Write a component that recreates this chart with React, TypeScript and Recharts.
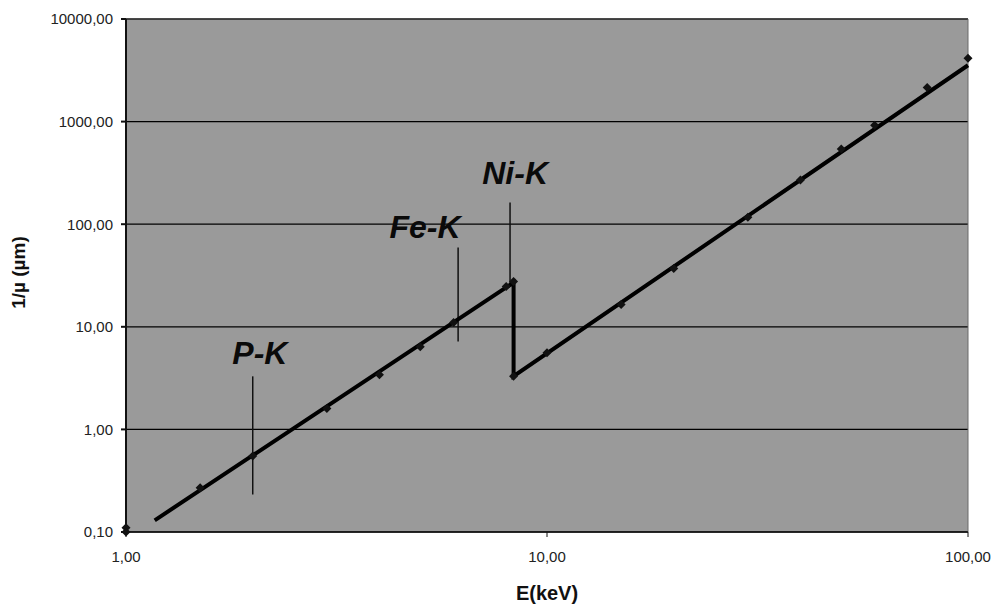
import {
  ComposedChart,
  Line,
  Scatter,
  XAxis,
  YAxis,
  CartesianGrid,
  ReferenceLine,
  ReferenceDot,
} from "recharts";

// measured points, E (keV) vs 1/mu (um)
const measured = [
  { x: 1, y: 0.11 },
  { x: 1, y: 0.1 },
  { x: 1.5, y: 0.27 },
  { x: 2, y: 0.55 },
  { x: 3, y: 1.6 },
  { x: 4, y: 3.4 },
  { x: 5, y: 6.4 },
  { x: 6, y: 11 },
  { x: 8, y: 24.7 },
  { x: 8.33, y: 27.7 },
  { x: 8.33, y: 3.3 },
  { x: 10, y: 5.6 },
  { x: 15, y: 16.5 },
  { x: 20, y: 37 },
  { x: 30, y: 117 },
  { x: 40, y: 270 },
  { x: 50, y: 540 },
  { x: 60, y: 920 },
  { x: 80, y: 2150 },
  { x: 100, y: 4150 },
];

// fitted curve with the Ni-K absorption edge
const fitted = [
  { x: 1.17, y: 0.13 },
  { x: 8.33, y: 27 },
  { x: 8.33, y: 3.3 },
  { x: 100, y: 3540 },
];

const xTicks = [1, 10, 100];
const yTicks = [0.1, 1, 10, 100, 1000, 10000];

// absorption edge markers: label position and vertical segment
const edges = [
  { name: "P-K", x: 2, y1: 0.232, y2: 3.29, lx: 2.08, ly: 5.6 },
  { name: "Fe-K", x: 6.15, y1: 7.2, y2: 59.4, lx: 5.13, ly: 93 },
  { name: "Ni-K", x: 8.17, y1: 25, y2: 163, lx: 8.4, ly: 313 },
];

const FONT = "'Liberation Sans', Arial, sans-serif";
const fmt = (v: number) => v.toFixed(2).replace(".", ",");

const Diamond = (props: any) => {
  const { cx, cy } = props;
  if (cx == null || cy == null) return null;
  const r = 4.5;
  return (
    <path
      d={`M${cx},${cy - r}L${cx + r},${cy}L${cx},${cy + r}L${cx - r},${cy}Z`}
      fill="#111"
    />
  );
};

export default function App() {
  return (
    <div style={{ position: "absolute", left: 0, top: 0, background: "#fff" }}>
      <ComposedChart
        width={992}
        height={605}
        margin={{ top: 19, right: 24, bottom: 3, left: 16 }}
      >
        <CartesianGrid
          horizontal
          vertical={false}
          fill="#9a9a9a"
          fillOpacity={1}
          stroke="#000"
          strokeWidth={1.3}
        />
        <XAxis
          type="number"
          dataKey="x"
          scale="log"
          domain={[1, 100]}
          ticks={xTicks}
          interval={0}
          tickFormatter={fmt}
          height={70}
          tickSize={5}
          tickMargin={14}
          stroke="#111"
          tick={{ fill: "#222", fontSize: 15, fontFamily: FONT }}
          label={{
            content: ({ viewBox }: any) => (
              <text
                x={viewBox.x + viewBox.width / 2}
                y={600}
                textAnchor="middle"
                fontFamily={FONT}
                fontWeight="bold"
                fontSize={20}
                fill="#111"
              >
                E(keV)
              </text>
            ),
          }}
        />
        <YAxis
          type="number"
          dataKey="y"
          scale="log"
          domain={[0.1, 10000]}
          ticks={yTicks}
          interval={0}
          tickFormatter={fmt}
          width={110}
          tickSize={5}
          tickMargin={8}
          stroke="#111"
          strokeWidth={2}
          tick={{ fill: "#222", fontSize: 15, fontFamily: FONT }}
          label={{
            content: ({ viewBox }: any) => {
              const cx = 25;
              const cy = viewBox.y + viewBox.height / 2 - 3;
              return (
                <text
                  x={cx}
                  y={cy}
                  transform={`rotate(-90 ${cx} ${cy})`}
                  textAnchor="middle"
                  fontFamily={FONT}
                  fontWeight="bold"
                  fontSize={19}
                  fill="#111"
                >
                  1/µ (µm)
                </text>
              );
            },
          }}
        />
        <ReferenceLine x={100} stroke="#6a6a6a" />
        <ReferenceLine y={10000} stroke="#555" />
        {edges.map((e) => (
          <ReferenceLine
            key={e.name}
            segment={[
              { x: e.x, y: e.y1 },
              { x: e.x, y: e.y2 },
            ]}
            stroke="#111"
            strokeWidth={1.5}
          />
        ))}
        {edges.map((e) => (
          <ReferenceDot
            key={e.name + "-lbl"}
            x={e.lx}
            y={e.ly}
            r={0}
            fill="none"
            stroke="none"
            label={{
              content: ({ viewBox }: any) => (
                <text
                  x={viewBox.x + (viewBox.width || 0) / 2}
                  y={viewBox.y + (viewBox.height || 0) / 2}
                  textAnchor="middle"
                  dominantBaseline="central"
                  fontFamily={FONT}
                  fontWeight="bold"
                  fontStyle="italic"
                  fontSize={32}
                  fill="#0a0a0a"
                >
                  {e.name}
                </text>
              ),
            }}
          />
        ))}
        <Line
          data={fitted}
          dataKey="y"
          type="linear"
          stroke="#000"
          strokeWidth={4}
          dot={false}
          isAnimationActive={false}
        />
        <Scatter
          data={measured}
          dataKey="y"
          shape={Diamond}
          isAnimationActive={false}
        />
      </ComposedChart>
    </div>
  );
}
